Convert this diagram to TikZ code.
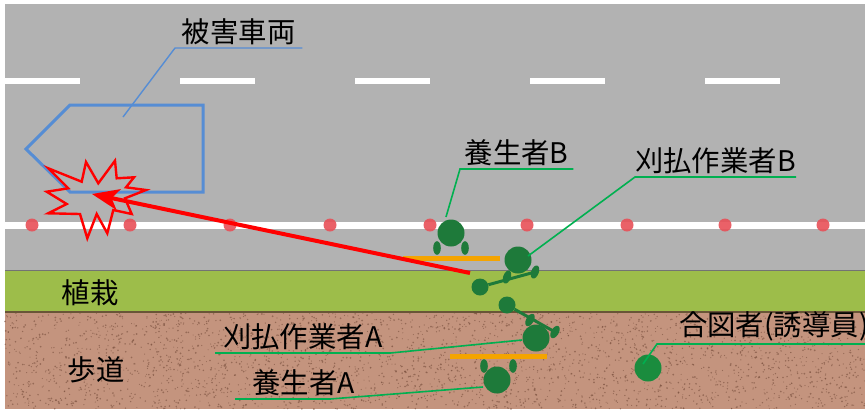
\documentclass[tikz,border=0pt]{standalone}
\usepackage{fontspec}
\newfontfamily\jp{Noto Sans CJK JP}
\usetikzlibrary{arrows.meta}

\definecolor{roadgray}{RGB}{178,178,178}
\definecolor{plantgreen}{RGB}{157,189,74}
\definecolor{walkbrown}{RGB}{196,148,126}
\definecolor{speck}{RGB}{120,78,60}
\definecolor{conered}{RGB}{232,80,88}
\definecolor{carblue}{RGB}{86,141,212}
\definecolor{figgreen}{RGB}{30,122,58}
\definecolor{signalgreen}{RGB}{26,140,62}
\definecolor{leadgreen}{RGB}{0,176,80}
\definecolor{barorange}{RGB}{244,164,0}
\definecolor{edgegray}{RGB}{115,115,115}
\definecolor{edgebrown}{RGB}{105,85,55}

\tikzset{
  lbl/.style={font=\jp\fontsize{28.5}{33}\selectfont, inner xsep=0pt, inner ysep=3bp},
  lead/.style={draw=leadgreen, line width=1.6bp},
  head/.style={circle, fill=figgreen, minimum size=27bp, inner sep=0pt},
  cutterhead/.style={circle, fill=figgreen, minimum size=17bp, inner sep=0pt},
  foot/.style={fill=figgreen},
  shaft/.style={draw=figgreen, line width=3bp},
  guardbar/.style={draw=barorange, line width=5bp},
  cone/.style={fill=conered, opacity=0.9},
  lanemark/.style={fill=white},
}

\begin{document}
\begin{tikzpicture}[x=1bp, y=-1bp]
  \useasboundingbox (0,0) rectangle (865,409);
  \clip (0,0) rectangle (865,409);
  \fill[white] (0,0) rectangle (865,409);

  % carriageway
  \fill[roadgray] (5,4) rectangle (865,270);
  \foreach \x in {5,180,355,530,705} {
    \fill[lanemark] (\x,77.5) rectangle ++(75,6);
  }
  \fill[white] (5,222) rectangle (865,229);
  \foreach \x in {32,130,230,330,430,527,627,725,823} {
    \fill[cone] (\x,225) circle (6.5);
  }

  % planting strip
  \fill[plantgreen] (5,270) rectangle (865,312);
  \draw[edgegray, line width=1.5bp] (5,270.5) -- (865,270.5);

  % sidewalk with speckled surface
  \fill[walkbrown] (5,312) rectangle (865,409);
  \pgfmathsetseed{4217}
  \foreach \i in {1,...,3000} {
    \pgfmathsetmacro\sx{5+860*rnd}
    \pgfmathsetmacro\sy{313+96*rnd}
    \pgfmathsetmacro\sr{0.5+0.5*rnd}
    \fill[speck, opacity=0.6] (\sx,\sy) circle (\sr);
  }
  \draw[edgebrown, line width=1.5bp] (5,312) -- (865,312);

  % damaged vehicle
  \draw[carblue, line width=3bp, line join=miter]
    (70,105) -- (203,105) -- (203,192) -- (70,192) -- (26,149) -- cycle;
  \coordinate (carIn) at (123,117);
  \node[lbl, anchor=south west, minimum width=127bp] (tCar) at (175,48) {被害車両};
  \draw[carblue, line width=1.4bp] (carIn) -- (tCar.south west) -- (tCar.south east);

  % impact burst
  \draw[red, line width=2.4bp, line join=miter]
    (48.3,168.3) -- (81.7,181.7) -- (86,162) -- (98.3,183.3) -- (115,160.7)
    -- (116.7,178.3) -- (134,177.3) -- (126,187.3) -- (146,190) -- (125,198.3)
    -- (131.7,214) -- (113.3,210) -- (107.3,233.3) -- (96.7,214) -- (87.3,238.3)
    -- (80,214) -- (48.3,213.3) -- (66.7,204) -- (46.7,191.7) -- (68.3,188.3) -- cycle;

  % orange guard bars
  \draw[guardbar] (403,258) -- (500,258);
  \draw[guardbar] (450,356) -- (547,356);

  % guard B
  \node[head] (gB) at (451,233) {};
  \fill[foot] (437,248) ellipse [x radius=3.8, y radius=6.8];
  \fill[foot] (465,248) ellipse [x radius=3.8, y radius=6.8];

  % mower operator B with brush cutter
  \node[cutterhead] (cB) at (480,287) {};
  \node[head] (wB) at (518,260) {};
  \draw[shaft] (cB) -- (535,272);
  \fill[foot, rotate around={-20:(507,277)}] (507,277) ellipse [x radius=3.8, y radius=6.8];
  \fill[foot, rotate around={-20:(535,272)}] (535,272) ellipse [x radius=3.8, y radius=6.8];

  % mower operator A with brush cutter
  \node[cutterhead] (cA) at (507,305) {};
  \draw[shaft] (cA) -- (555,332);
  \fill[foot, rotate around={-30:(530,320)}] (530,320) ellipse [x radius=3.8, y radius=6.8];
  \fill[foot, rotate around={-30:(555,332)}] (555,332) ellipse [x radius=3.8, y radius=6.8];
  \node[head] (wA) at (536,338) {};

  % guard A
  \node[head] (gA) at (497,380) {};
  \fill[foot] (484,366) ellipse [x radius=3.8, y radius=6.8];
  \fill[foot] (513,366) ellipse [x radius=3.8, y radius=6.8];

  % signaller
  \node[head, fill=signalgreen] (sig) at (648,368) {};

  % path of the thrown object
  \coordinate (throwFrom) at (470,273);
  \coordinate (impact) at (92,194);
  \draw[red, line width=4bp, -{Stealth[length=27bp, width=21bp, inset=7bp]}]
    (throwFrom) -- (impact);

  % area names
  \node[lbl] (tPlant) at (90,293) {植栽};
  \node[lbl] (tWalk) at (96,370) {歩道};

  % callouts
  \coordinate (sGB) at (446,217);
  \node[lbl, anchor=south west, minimum width=113bp] (tGB) at (460,169) {養生者B};
  \draw[lead] (sGB) -- (tGB.south west) -- (tGB.south east);

  \coordinate (sWB) at (528,256);
  \node[lbl, anchor=south west, minimum width=159bp, xshift=4bp] (tWB) at (631,177) {刈払作業者B};
  \draw[lead] (sWB) -- (tWB.south west) -- (tWB.south east);

  \coordinate (sWA) at (522,340);
  \node[lbl, anchor=south west, minimum width=175bp] (tWA) at (215,353) {刈払作業者A};
  \draw[lead] (sWA) -- (tWA.south east) -- (tWA.south west);

  \coordinate (sGA) at (483,387);
  \coordinate (bGA) at (330,399);
  \node[lbl, anchor=south west, minimum width=137bp] (tGA) at (235,399) {養生者A};
  \draw[lead] (sGA) -- (bGA) -- (tGA.south west);

  \coordinate (sSig) at (643,364);
  \coordinate (bSig) at (657,344);
  \coordinate (eSig) at (870,344);
  \node[lbl, anchor=south west] (tSig) at (679,344) {合図者(誘導員)};
  \draw[lead] (sSig) -- (bSig) -- (eSig);
\end{tikzpicture}
\end{document}
